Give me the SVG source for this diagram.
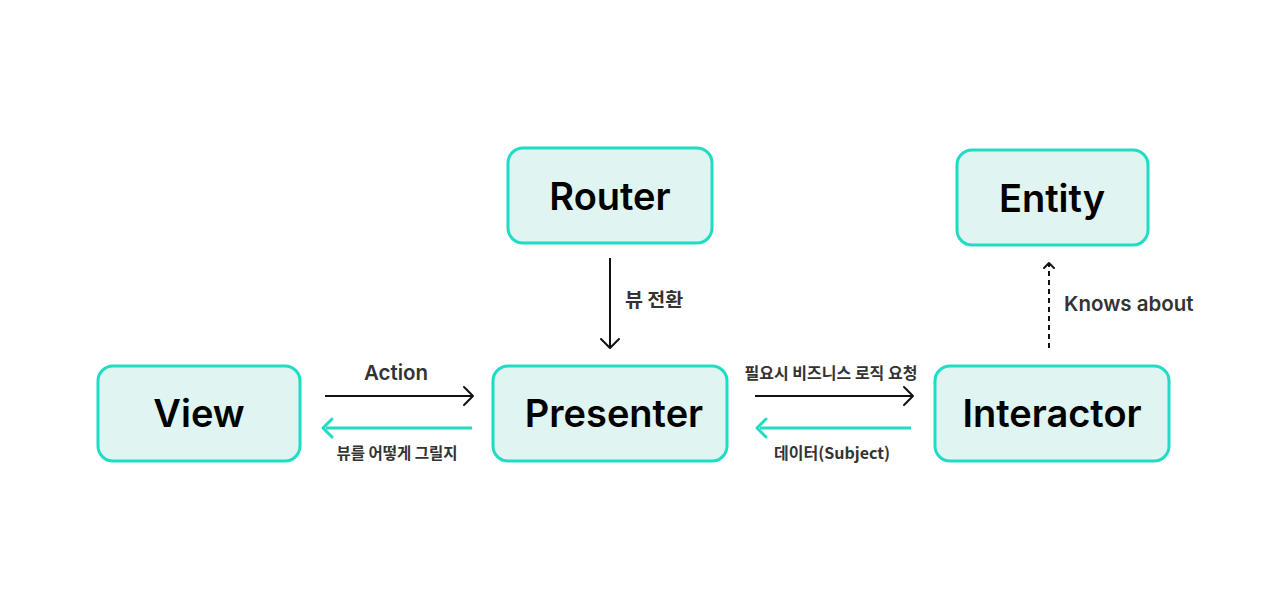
<svg xmlns="http://www.w3.org/2000/svg" width="1280" height="601" viewBox="0 0 1280 601">
<style>
.box{fill:#e0f5f2;stroke:#1fdcc4;stroke-width:3}
.nt{font-family:Inter,"Noto Sans",sans-serif;font-weight:600;font-size:38px;fill:#000;text-anchor:middle}
.lb{font-family:Inter,"Noto Sans","Noto Sans CJK KR",sans-serif;font-weight:600;font-size:20.5px;fill:#333;}
.lk{font-family:"Noto Sans CJK KR",Inter,sans-serif;font-weight:700;font-size:16px;fill:#333;}
.bl{stroke:#111;stroke-width:2;fill:none}
.tl{stroke:#1fdcc4;stroke-width:3;fill:none}
.ah{stroke-linecap:round;stroke-linejoin:round}
</style>
<rect width="1280" height="601" fill="#fff"/>
<g id="router"><rect class="box" x="508" y="148" width="204" height="95" rx="15"/><text class="nt" x="610" y="210">Router</text></g>
<g id="entity"><rect class="box" x="957" y="150" width="191" height="95" rx="15"/><text class="nt" x="1052" y="212">Entity</text></g>
<g id="view"><rect class="box" x="98" y="366" width="202" height="95" rx="15"/><text class="nt" x="199" y="427">View</text></g>
<g id="presenter"><rect class="box" x="493" y="366" width="234" height="95" rx="15"/><text class="nt" x="614" y="427">Presenter</text></g>
<g id="interactor"><rect class="box" x="935" y="366" width="234" height="95" rx="15"/><text class="nt" x="1052" y="427">Interactor</text></g>
<g id="connectors">
<path class="bl" d="M325 396H472"/><path class="bl ah" d="M464 387L473 396L464 405"/>
<path class="tl" d="M472 428H326"/><path class="tl ah" d="M332 419L323 428L332 437"/>
<path class="bl" d="M755 396H912"/><path class="bl ah" d="M904 387L913 396L904 405"/>
<path class="tl" d="M911 428H760"/><path class="tl ah" d="M766 419L757 428L766 437"/>
<path class="bl" d="M610 258V347"/><path class="bl ah" d="M601 339L610 348L619 339"/>
<path class="bl" d="M1049 348V264" stroke-dasharray="5 4"/><path class="bl ah" d="M1044 268L1049 263L1054 268"/>
<text class="lb" x="396" y="380" text-anchor="middle">Action</text>
<text class="lk" x="397" y="459" text-anchor="middle" style="font-size:15.5px">뷰를 어떻게 그릴지</text>
<text class="lk" x="831" y="379" text-anchor="middle">필요시 비즈니스 로직 요청</text>
<text class="lk" x="832" y="459" text-anchor="middle">데이터(Subject)</text>
<text class="lk" x="625" y="307" style="font-size:19.5px">뷰 전환</text>
<text class="lb" x="1064" y="311">Knows about</text>
</g>
</svg>
